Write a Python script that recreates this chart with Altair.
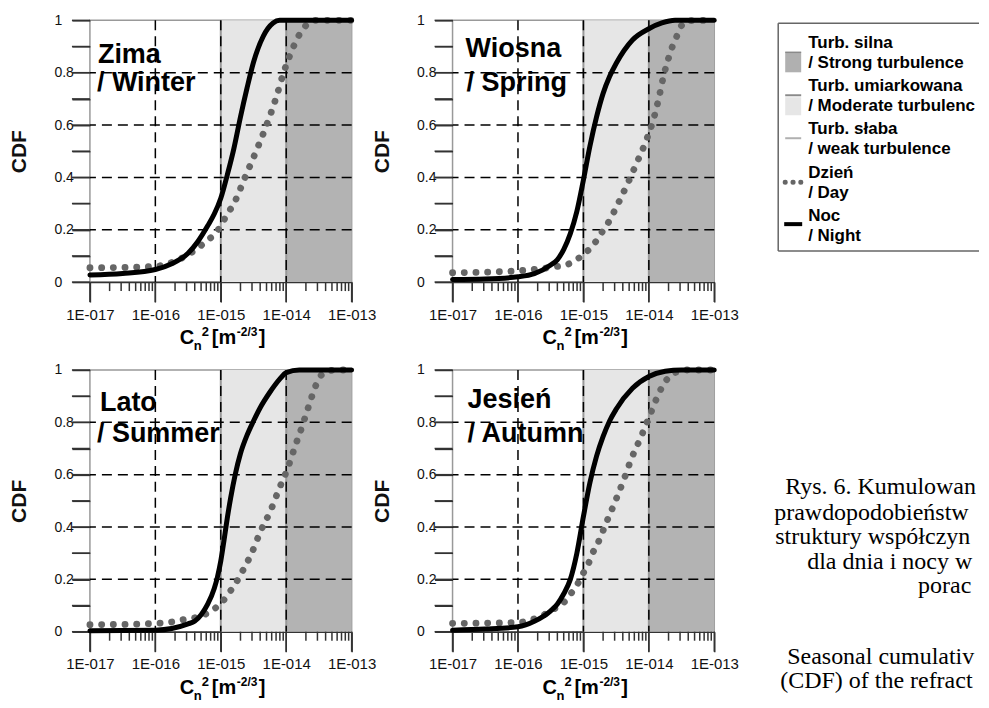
import altair as alt
import pandas as pd

# ---------------- data ----------------
season_pl = ["Zima", "Wiosna", "Lato", "Jesień"]
season_en = ["/ Winter", "/ Spring", "/ Summer", "/ Autumn"]

# log10(Cn2) exponents and CDF values, night (solid) and day (dotted)
zima_night_exp = [-17, -16.5, -16, -15.75, -15.5, -15.35, -15.2, -15.1, -15, -14.9, -14.8, -14.7, -14.6, -14.5, -14.35, -14.2, -14.1, -13]
zima_night_cdf = [0.027, 0.033, 0.048, 0.07, 0.11, 0.155, 0.215, 0.26, 0.32, 0.41, 0.51, 0.63, 0.74, 0.84, 0.94, 0.99, 1.0, 1.0]
zima_day_exp = [-17, -16.5, -16, -15.75, -15.5, -15.25, -15.04, -14.9, -14.8, -14.63, -14.46, -14.3, -14.16, -14.04, -13.93, -13.8, -13.7, -13.55, -13]
zima_day_cdf = [0.055, 0.056, 0.06, 0.075, 0.105, 0.15, 0.20, 0.26, 0.30, 0.40, 0.50, 0.60, 0.70, 0.80, 0.875, 0.945, 0.98, 1.0, 1.0]

wiosna_night_exp = [-17, -16.5, -16, -15.75, -15.5, -15.4, -15.3, -15.2, -15.1, -15, -14.9, -14.8, -14.7, -14.6, -14.5, -14.25, -14, -13.8, -13.6, -13]
wiosna_night_cdf = [0.01, 0.012, 0.02, 0.032, 0.065, 0.085, 0.125, 0.185, 0.27, 0.39, 0.52, 0.63, 0.72, 0.785, 0.835, 0.925, 0.968, 0.99, 1.0, 1.0]
wiosna_day_exp = [-17, -16.5, -16, -15.7, -15.45, -15.25, -15.08, -14.95, -14.83, -14.74, -14.63, -14.47, -14.32, -14.18, -14.04, -13.93, -13.85, -13.78, -13.69, -13.64, -13.57, -13.51, -13.38, -13]
wiosna_day_cdf = [0.036, 0.038, 0.043, 0.05, 0.058, 0.067, 0.09, 0.116, 0.148, 0.182, 0.223, 0.30, 0.379, 0.458, 0.541, 0.621, 0.70, 0.782, 0.863, 0.90, 0.941, 0.977, 0.999, 1.0]

lato_night_exp = [-17, -16, -15.75, -15.5, -15.4, -15.3, -15.2, -15.1, -15.05, -15, -14.95, -14.9, -14.85, -14.78, -14.7, -14.6, -14.5, -14.4, -14.25, -14.1, -14, -13.8, -13]
lato_night_cdf = [0.004, 0.006, 0.012, 0.03, 0.04, 0.065, 0.105, 0.165, 0.21, 0.27, 0.35, 0.435, 0.51, 0.60, 0.68, 0.75, 0.805, 0.855, 0.915, 0.965, 0.99, 1.0, 1.0]
lato_day_exp = [-17, -16.5, -16, -15.78, -15.6, -15.26, -15.1, -14.97, -14.86, -14.76, -14.68, -14.52, -14.39, -14.24, -14.11, -13.98, -13.87, -13.76, -13.66, -13.56, -13.5, -13.41, -13.25, -13]
lato_day_cdf = [0.027, 0.028, 0.032, 0.036, 0.045, 0.064, 0.087, 0.116, 0.153, 0.19, 0.226, 0.305, 0.385, 0.462, 0.545, 0.623, 0.704, 0.782, 0.859, 0.933, 0.968, 0.99, 1.0, 1.0]

jesien_night_exp = [-17, -16.5, -16, -15.75, -15.5, -15.4, -15.3, -15.2, -15.1, -15, -14.9, -14.8, -14.7, -14.6, -14.5, -14.25, -14, -13.75, -13.5, -13]
jesien_night_cdf = [0.006, 0.01, 0.019, 0.04, 0.08, 0.105, 0.145, 0.20, 0.30, 0.44, 0.57, 0.67, 0.745, 0.805, 0.85, 0.93, 0.975, 0.995, 1.0, 1.0]
jesien_day_exp = [-17, -16.5, -15.97, -15.8, -15.61, -15.45, -15.31, -15.19, -15.09, -15.01, -14.92, -14.86, -14.78, -14.65, -14.51, -14.38, -14.26, -14.12, -13.99, -13.86, -13.79, -13.7, -13.6, -13.4, -13]
jesien_day_cdf = [0.032, 0.033, 0.036, 0.045, 0.064, 0.087, 0.109, 0.146, 0.182, 0.22, 0.262, 0.30, 0.338, 0.417, 0.50, 0.583, 0.665, 0.744, 0.824, 0.903, 0.939, 0.971, 0.99, 1.0, 1.0]

night_exp = [zima_night_exp, wiosna_night_exp, lato_night_exp, jesien_night_exp]
night_cdf = [zima_night_cdf, wiosna_night_cdf, lato_night_cdf, jesien_night_cdf]
day_exp = [zima_day_exp, wiosna_day_exp, lato_day_exp, jesien_day_exp]
day_cdf = [zima_day_cdf, wiosna_day_cdf, lato_day_cdf, jesien_day_cdf]

# turbulence regions
region_start = [1e-15, 1e-14]
region_end = [1e-14, 1e-13]
region_fill = ["#e6e6e6", "#b3b3b3"]
grid_x = [1e-16, 1e-15, 1e-14]
grid_y = [0.2, 0.4, 0.6, 0.8]
x_major_ticks = [1e-17, 1e-16, 1e-15, 1e-14, 1e-13]
x_minor_ticks = [m * 10.0 ** e for e in range(-17, -13) for m in range(2, 10)]
y_tick_values = [i / 10 for i in range(11)]

legend_entries = ["Turb. silna\n/ Strong turbulence", "Turb. umiarkowana\n/ Moderate turbulence",
                  "Turb. słaba\n/ weak turbulence", "Dzień\n/ Day", "Noc\n/ Night"]
caption_lines = ["Rys. 6. Kumulowane rozkłady", "prawdopodobieństwa parametru",
                 "struktury współczynnika refrakcji", "dla dnia i nocy w różnych", "porach roku",
                 "Seasonal cumulative distribution functions", "(CDF) of the refractive index structure"]

# ---------------- styling / layout constants ----------------
W = H = 262
DECADE_PX = W / 4.0
FONT = "Liberation Sans"
SERIF = "Liberation Serif"
RIGHT = 527  # right edge of the drawing, relative to the right-column plot left
TICK = "#333"
TW = 1.5
MAJOR_LEN, MINOR_LEN, YTICK_LEN = 20, 9, 18

xscale = alt.Scale(type="log", domain=[1e-17, 1e-13], nice=False)
yscale = alt.Scale(domain=[0, 1], nice=False)
xaxis = alt.Axis(values=x_major_ticks, title=None, grid=False, ticks=True, tickSize=MAJOR_LEN,
                 tickColor=TICK, tickWidth=TW,
                 labelExpr="'1E-0' + (-round(log(datum.value)/LN10))",
                 labelFont=FONT, labelFontSize=15, labelColor="#111", labelPadding=5,
                 labelFlush=False, labelOverlap=False, labelBound=False,
                 domainColor="#333", domainWidth=1.6)
yaxis = alt.Axis(values=y_tick_values, title="CDF", grid=False, ticks=True, tickSize=YTICK_LEN,
                 tickColor=TICK, tickWidth=TW,
                 labelExpr="abs(datum.value*5 - round(datum.value*5)) < 0.01 ? format(datum.value, '~g') : ''",
                 labelFont=FONT, labelFontSize=14, labelColor="#111", labelAlign="left",
                 labelPadding=18, labelOverlap=False, labelFlush=False, domain=False,
                 titleFont=FONT, titleFontSize=21, titleFontWeight="bold", titleColor="#111",
                 titleX=-70, titleY=H / 2, titleBaseline="middle", titleAngle=270)


def X(field):
    return alt.X(field, type="quantitative", scale=xscale, axis=xaxis)


def Y(field):
    return alt.Y(field, type="quantitative", scale=yscale, axis=yaxis)


def one(text=""):
    return alt.Chart(pd.DataFrame({"t": [text]}))


def txt(text, x, y, size, weight="bold", font=FONT, limit=None, line_height=None):
    kw = dict(align="left", baseline="alphabetic", font=font, fontSize=size,
              fontWeight=weight, color="#000")
    if limit is not None:
        kw.update(limit=limit, ellipsis="\u200b")
    if line_height is not None:
        kw.update(lineBreak="\n", lineHeight=line_height)
    return one(text).mark_text(**kw).encode(text="t:N", x=alt.value(x), y=alt.value(y))


def hrule(x1, x2, y, color, width, dash=None, cap="butt"):
    kw = dict(color=color, strokeWidth=width, strokeCap=cap)
    if dash:
        kw["strokeDash"] = dash
    return one().mark_rule(**kw).encode(x=alt.value(x1), x2=alt.value(x2), y=alt.value(y))


def box(x1, x2, y1, y2, fill):
    return one().mark_rect(color=fill).encode(x=alt.value(x1), x2=alt.value(x2),
                                              y=alt.value(y1), y2=alt.value(y2))


def tick_layers():
    # ticks drawn as rules in data space, reaching just outside the plot frame
    xt = pd.DataFrame({"x": x_major_ticks + x_minor_ticks,
                       "lo": [0.0] * (len(x_major_ticks) + len(x_minor_ticks)),
                       "hi": [-MAJOR_LEN / H] * len(x_major_ticks) + [-MINOR_LEN / H] * len(x_minor_ticks)})
    yt = pd.DataFrame({"y": y_tick_values,
                       "xa": [1e-17] * len(y_tick_values),
                       "xb": [1e-17 * 10 ** (-YTICK_LEN / DECADE_PX)] * len(y_tick_values)})
    return [
        alt.Chart(xt).mark_rule(color=TICK, strokeWidth=TW).encode(x=X("x"), y=Y("lo"), y2="hi"),
        alt.Chart(yt).mark_rule(color=TICK, strokeWidth=TW).encode(y=Y("y"), x=X("xa"), x2="xb"),
    ]


label_pos = [((8, 43), (7, 71)), ((13, 37), (14, 71)), ((10, 41), (7, 72)), ((15, 38), (15, 72))]


def panel(i):
    shade = pd.DataFrame({"x0": region_start, "x1": region_end, "y0": [0, 0], "y1": [1, 1],
                          "fill": region_fill})
    layers = [
        alt.Chart(shade).mark_rect().encode(x=X("x0"), x2="x1", y=Y("y0"), y2="y1",
                                            color=alt.Color("fill:N", scale=None)),
        alt.Chart(pd.DataFrame({"x": region_start})).mark_rule(color="#999", strokeWidth=2).encode(x=X("x")),
        alt.Chart(pd.DataFrame({"x": grid_x})).mark_rule(color="#000", strokeWidth=1.5,
                                                         strokeDash=[10, 6]).encode(x=X("x")),
        alt.Chart(pd.DataFrame({"y": grid_y})).mark_rule(color="#000", strokeWidth=1.5,
                                                         strokeDash=[10, 6]).encode(y=Y("y")),
    ] + tick_layers()
    day = pd.DataFrame({"x": [10.0 ** e for e in day_exp[i]], "cdf": day_cdf[i]})
    night = pd.DataFrame({"x": [10.0 ** e for e in night_exp[i]], "cdf": night_cdf[i]})
    layers.append(alt.Chart(day).mark_line(color="#666", strokeWidth=6.8, strokeCap="round",
                                           strokeDash=[0.1, 11.6], interpolate="monotone")
                  .encode(x=X("x"), y=Y("cdf")))
    layers.append(alt.Chart(night).mark_line(color="#000", strokeWidth=5, strokeCap="round",
                                             interpolate="monotone")
                  .encode(x=X("x"), y=Y("cdf")))
    (a, b), (c, d) = label_pos[i]
    layers.append(txt(season_pl[i], a, b, 27))
    layers.append(txt(season_en[i], c, d, 27))
    # x-axis title C_n^2 [m^-2/3]
    base = H + 62
    layers += [txt("C", 90, base, 20), txt("n", 104, base + 6, 13), txt("2", 112, base - 8, 13),
               txt("[m", 122, base, 20), txt("-2/3", 147, base - 8, 12), txt("]", 169, base, 20)]

    if i == 1:  # legend box (drawn to the right of the "Wiosna" panel)
        lx = 326
        layers += [
            box(lx, RIGHT, 3, 231, "#ffffff"),
            hrule(lx, RIGHT, 3, "#666", 1.5), hrule(lx, RIGHT, 231, "#666", 1.5),
            one().mark_rule(color="#666", strokeWidth=1.5).encode(x=alt.value(lx), y=alt.value(3), y2=alt.value(231)),
            box(333, 349, 32, 52, "#b0b0b0"), hrule(333, 349, 32, "#8a8a8a", 1.5),
            hrule(333, 349, 75, "#8a8a8a", 2), box(333, 349, 77, 95, "#e6e6e6"),
            hrule(333, 349, 118, "#b0b0b0", 2),
            hrule(333, 350, 162, "#666", 5, dash=[0.1, 7.7], cap="round"),
            hrule(332, 350, 204, "#000", 4),
        ]
        for entry, yb in zip(legend_entries, [28, 71, 114, 158, 201]):
            layers.append(txt(entry, 356, yb, 17, limit=RIGHT - 356, line_height=20))
    if i == 3:  # figure caption (drawn to the right of the "Jesień" panel)
        pos = [(333, 124), (322, 150), (323, 174), (355, 199), (466, 223), (335, 294), (328, 318)]
        for line, (px, py) in zip(caption_lines, pos):
            layers.append(txt(line, px, py, 24, weight="normal", font=SERIF, limit=RIGHT - px))
    return alt.layer(*layers).properties(width=W, height=H)


chart = alt.concat(panel(0), panel(1), panel(2), panel(3), columns=2,
                   spacing={"row": 88, "column": 101}, bounds="flush").properties(
    padding={"left": 0, "top": -3, "right": 0, "bottom": 0}
).configure_view(stroke="#999", strokeWidth=1.5)

chart.save("out.html", embed_options={"renderer": "svg", "actions": False})
